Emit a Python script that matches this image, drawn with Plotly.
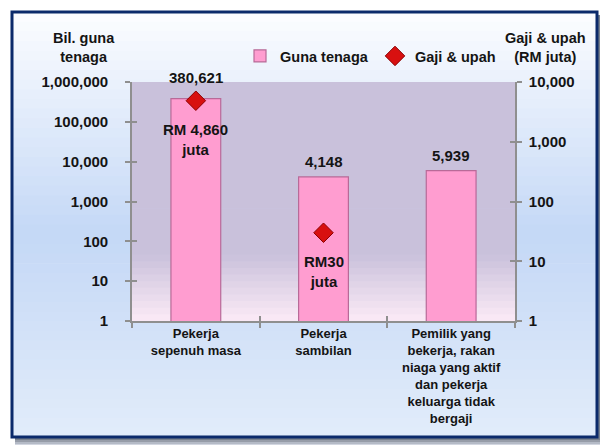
import math
import plotly.graph_objects as go

categories = ["Pekerja<br>sepenuh masa", "Pekerja<br>sambilan",
              "Pemilik yang<br>bekerja, rakan<br>niaga yang aktif<br>dan pekerja<br>keluarga tidak<br>bergaji"]
guna_tenaga = [380621, 4148, 5939]
gaji_upah_cats = categories[:2]
gaji_upah = [4860, 30]
gaji_labels = ["RM 4,860<br>juta", "RM30<br>juta"]
left_ticks = [1, 10, 100, 1000, 10000, 100000, 1000000]
left_ticktext = ["1", "10", "100", "1,000", "10,000", "100,000", "1,000,000"]
right_ticks = [1, 10, 100, 1000, 10000]
right_ticktext = ["1", "10", "100", "1,000", "10,000"]

OFF = 8  # page body margin
W, H = 608 - OFF, 445 - OFF
# plot area in screen px: x 132..515, y 82..321
L, R, T, B = 132 - OFF, 608 - 515, 82 - OFF, 445 - 321
pw, ph = W - L - R, H - T - B


def px2x(sx):
    return (sx - OFF - L) / pw


def px2y(sy):
    return (H - B - (sy - OFF)) / ph


def lerp(c1, c2, t):
    return "rgb(%d,%d,%d)" % tuple(round(a + (b - a) * t) for a, b in zip(c1, c2))


FONT = "Liberation Sans, Arial, sans-serif"
TXT = "#141414"
AX = "#8f8f8f"
shapes = []

# frame background gradient
fx0, fx1, fy0, fy1 = 12, 597, 12, 437
top_c, mid_c, bot_c = (252, 253, 255), (196, 216, 246), (226, 236, 250)
n = 44
for i in range(n):
    ya = fy0 + (fy1 - fy0) * i / n
    yb = fy0 + (fy1 - fy0) * (i + 1) / n
    t = (i + 0.5) / n
    if t < 0.52:
        col = lerp(top_c, mid_c, t / 0.52)
    else:
        col = lerp(mid_c, bot_c, (t - 0.52) / 0.48)
    shapes.append(dict(type="rect", xref="paper", yref="paper", layer="below",
                       x0=px2x(fx0), x1=px2x(fx1), y0=px2y(yb) - 0.003, y1=px2y(ya),
                       fillcolor=col, line=dict(width=0)))

# plot area gradient
p_top, p_bot = (201, 193, 219), (252, 234, 246)
n2 = 36
for i in range(n2):
    ya = (T + OFF) + ph * i / n2
    yb = (T + OFF) + ph * (i + 1) / n2
    t = (i + 0.5) / n2
    if t < 0.72:
        col = lerp(p_top, p_top, 0)
    else:
        col = lerp(p_top, p_bot, ((t - 0.72) / 0.28))
    shapes.append(dict(type="rect", xref="paper", yref="paper", layer="below",
                       x0=0, x1=1, y0=px2y(yb) - 0.003, y1=px2y(ya),
                       fillcolor=col, line=dict(width=0)))

# frame shadow (right/bottom) and border
for k, g in enumerate([(120, 128, 140), (150, 156, 168), (180, 186, 198), (210, 214, 224), (232, 235, 240)]):
    shapes.append(dict(type="path", xref="paper", yref="paper", layer="below",
                       path="M %f,%f L %f,%f L %f,%f" % (
                           px2x(fx1 + 2 + 2 * k), px2y(fy0 + 3),
                           px2x(fx1 + 2 + 2 * k), px2y(fy1 + 2 + 2 * k),
                           px2x(fx0 + 3), px2y(fy1 + 2 + 2 * k)),
                       line=dict(color="rgb(%d,%d,%d)" % g, width=2)))
shapes.append(dict(type="rect", xref="paper", yref="paper", layer="below",
                   x0=px2x(fx0), x1=px2x(fx1), y0=px2y(fy1), y1=px2y(fy0),
                   fillcolor="rgba(0,0,0,0)", line=dict(color="#0b2a6b", width=3)))

fig = go.Figure()
fig.add_trace(go.Bar(
    x=categories, y=guna_tenaga, name="<b>Guna tenaga</b>", width=0.39,
    marker=dict(color="#ff9dd0", line=dict(color="#b86a98", width=1.2)),
))
fig.add_trace(go.Scatter(
    x=gaji_upah_cats, y=gaji_upah, yaxis="y2", name="<b>Gaji & upah</b>", mode="markers",
    marker=dict(symbol="diamond", size=15, color="#d81010", line=dict(color="#8a0000", width=1)),
))

annotations = []
bar_label_shift = [21, 15, 15]
for c, v, s in zip(categories, guna_tenaga, bar_label_shift):
    annotations.append(dict(x=c, y=math.log10(v), xref="x", yref="y", text=f"<b>{v:,}</b>",
                            showarrow=False, yshift=s, yanchor="middle",
                            font=dict(family=FONT, size=15, color=TXT)))
for c, v, lab in zip(gaji_upah_cats, gaji_upah, gaji_labels):
    annotations.append(dict(x=c, y=math.log10(v), xref="x", yref="y2", text=f"<b>{lab}</b>",
                            showarrow=False, yshift=-39, yanchor="middle",
                            font=dict(family=FONT, size=15, color=TXT)))
annotations.append(dict(x=px2x(84), y=px2y(48), xref="paper", yref="paper",
                        xanchor="center", yanchor="middle",
                        text="<b>Bil. guna<br>tenaga</b>", showarrow=False,
                        font=dict(family=FONT, size=14.5, color=TXT)))
annotations.append(dict(x=px2x(545), y=px2y(48), xref="paper", yref="paper",
                        xanchor="center", yanchor="middle",
                        text="<b>Gaji & upah<br>(RM juta)</b>", showarrow=False,
                        font=dict(family=FONT, size=14.5, color=TXT)))

axis_font = dict(family=FONT, size=15, color=TXT, weight="bold")
common = dict(showline=True, linecolor=AX, linewidth=1.6, showgrid=False, zeroline=False,
              tickcolor=AX, tickwidth=1.6)
fig.update_layout(
    width=W, height=H, margin=dict(l=L, r=R, t=T, b=B),
    paper_bgcolor="white", plot_bgcolor="rgba(0,0,0,0)",
    font=dict(family=FONT, color=TXT),
    showlegend=True,
    legend=dict(orientation="h", x=px2x(240), y=px2y(56), xanchor="left", yanchor="middle",
                bgcolor="rgba(0,0,0,0)", font=dict(family=FONT, size=14.5, color=TXT),
                itemwidth=30, entrywidth=90, itemclick=False),
    xaxis=dict(tickson="boundaries", ticks="outside", ticklen=5, range=[-0.5, 2.5],
               tickfont=dict(family=FONT, size=13, weight="bold", color=TXT), **common),
    xaxis2=dict(overlaying="x", anchor="y", range=[-0.5, 2.5], tickvals=[-0.5, 0.5, 1.5, 2.5],
                ticks="inside", ticklen=5, showticklabels=False, side="bottom", **common),
    yaxis=dict(type="log", range=[0, 6], tickvals=left_ticks, ticktext=left_ticktext,
               ticks="outside", ticklen=5, tickfont=axis_font, ticklabelstandoff=14, **common),
    yaxis3=dict(type="log", range=[0, 6], tickvals=left_ticks, overlaying="y", side="left",
                anchor="x", ticks="inside", ticklen=5, showticklabels=False, **common),
    yaxis2=dict(type="log", range=[0, 4], tickvals=right_ticks, ticktext=right_ticktext,
                overlaying="y", side="right", ticks="outside", ticklen=5,
                tickfont=axis_font, ticklabelstandoff=4, **common),
    yaxis4=dict(type="log", range=[0, 4], tickvals=right_ticks, overlaying="y", side="right",
                anchor="x", ticks="inside", ticklen=5, showticklabels=False, **common),
    shapes=shapes, annotations=annotations,
)
# empty helper traces so overlay axes with inside tick marks are drawn
fig.add_trace(go.Scatter(x=[], y=[], xaxis="x2", yaxis="y3", showlegend=False, hoverinfo="skip"))
fig.add_trace(go.Scatter(x=[], y=[], xaxis="x2", yaxis="y4", showlegend=False, hoverinfo="skip"))
fig.write_html("out.html")
